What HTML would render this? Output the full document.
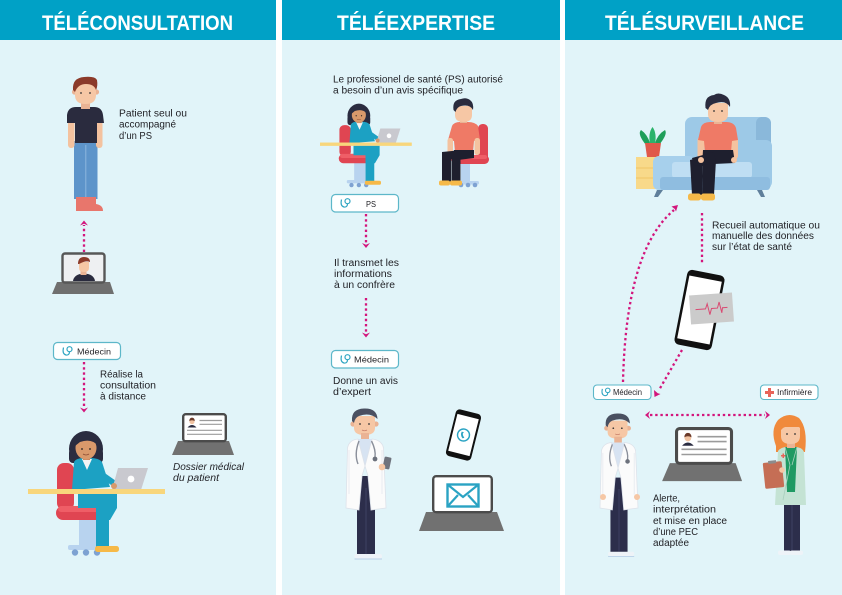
<!DOCTYPE html>
<html><head><meta charset="utf-8">
<style>
html,body{margin:0;padding:0;background:#fff}
svg{display:block}
text{font-family:"Liberation Sans",sans-serif}
.t{font-size:10px;fill:#1f1f24}
.p{font-size:8.6px;fill:#1f1f24}
.h{font-size:21px;font-weight:bold;fill:#fff}
.d{fill:none;stroke:#d3157c;stroke-width:2.3;stroke-dasharray:2.4 2.8}
.a{fill:#d3157c}
</style></head>
<body>
<svg width="842" height="595" viewBox="0 0 842 595" xmlns="http://www.w3.org/2000/svg">
<defs>
  <g id="st">
    <path d="M1.5 1.5 Q0 8 4 9 Q7.5 9.5 7.5 5.5" fill="none" stroke="#2fa5c2" stroke-width="1.2"/>
    <circle cx="7.5" cy="3.2" r="2.5" fill="none" stroke="#2fa5c2" stroke-width="1.2"/>
  </g>
  <g id="lapdos">
    <polygon points="178,441 229,441 234,455 172,455" fill="#717171"/>
    <rect x="183.2" y="414.2" width="42.6" height="27" rx="2.5" fill="#fff" stroke="#4b4b4b" stroke-width="2.4"/>
    <path d="M187.5 427.5 Q192 422.5 196.5 427.5 Z" fill="#2b2d42"/>
    <circle cx="192" cy="421.5" r="2.6" fill="#f1c3a2"/>
    <path d="M189.2 421 Q189.5 417.6 192 417.6 Q194.6 417.6 194.8 421 Q192 419.4 189.2 421 Z" fill="#6b3a2a"/>
    <g stroke="#9b9b9b" stroke-width="1.2">
      <line x1="199.5" y1="420.5" x2="222" y2="420.5"/>
      <line x1="199.5" y1="424.3" x2="222" y2="424.3"/>
      <line x1="187" y1="430.3" x2="222" y2="430.3"/>
      <line x1="187" y1="434.3" x2="222" y2="434.3"/>
    </g>
  </g>
  <g id="doc">
    <rect x="11" y="68" width="18" height="80" fill="#2c2e4b"/>
    <line x1="20" y1="80" x2="20" y2="148" stroke="#3e4163" stroke-width="1"/>
    <rect x="8.5" y="146" width="13" height="4.5" rx="2" fill="#eef3f8"/>
    <rect x="19" y="146" width="17" height="4.5" rx="2" fill="#eef3f8"/>
    <line x1="8.5" y1="151" x2="36" y2="151" stroke="#b9d1e8" stroke-width="1"/>
    <circle cx="7" cy="16" r="2.6" fill="#eab394"/>
    <circle cx="30" cy="16" r="2.6" fill="#eab394"/>
    <path d="M8 8 L29 8 L29 20 Q29 27 18.5 27 Q8 27 8 20 Z" fill="#f6c7a5"/>
    <path d="M6 13 Q5 1 18 0.5 Q31 0 31.5 11 Q24 4 13 8 Q9 9.5 8 15 Z" fill="#4a5061"/>
    <circle cx="14" cy="16" r="0.9" fill="#333"/>
    <circle cx="23" cy="16" r="0.9" fill="#333"/>
    <path d="M16 22 Q18.5 23.5 21 22" stroke="#c9806a" stroke-width="0.8" fill="none"/>
    <rect x="15" y="25" width="8" height="7" fill="#eab394"/>
    <polygon points="12,31 26,31 19,58" fill="#d7e3f2"/>
    <path d="M19 58 L12 31 Q3 32 1.5 40 L0 100 L13 102 L16 68 Z" fill="#fbfbfb" stroke="#dde2ea" stroke-width="0.8"/>
    <path d="M19 58 L26 31 Q36 32 37.5 40 L40 100 L25 102 L22 68 Z" fill="#fbfbfb" stroke="#dde2ea" stroke-width="0.8"/>
    <path d="M13 33 Q8 46 12 56 M25.5 33 Q30 42 29 49" stroke="#8a8f9a" stroke-width="1.4" fill="none"/>
    <circle cx="29" cy="51" r="2.4" fill="#6c717c"/>
    <path d="M3 42 L3 86" stroke="#e4e8ee" stroke-width="0.8"/>
    <path d="M36 42 L36 86" stroke="#e4e8ee" stroke-width="0.8"/>
  </g>
  <g id="desk">
    <rect x="57" y="463" width="17" height="47" rx="7" fill="#e04552"/>
    <rect x="79" y="518" width="17" height="28" fill="#b8d3ef"/>
    <rect x="68" y="545" width="38" height="5" rx="2" fill="#b8d3ef"/>
    <circle cx="75" cy="552.5" r="3.2" fill="#7ea2d2"/>
    <circle cx="86" cy="552.5" r="3.2" fill="#7ea2d2"/>
    <circle cx="97" cy="552.5" r="3.2" fill="#7ea2d2"/>
    <rect x="56" y="506" width="50" height="14" rx="7" fill="#e04552"/>
    <rect x="58" y="506" width="46" height="6" rx="3" fill="#ef5e67"/>
    <ellipse cx="86" cy="449" rx="17" ry="18" fill="#2a2c40"/>
    <rect x="69" y="449" width="34" height="14" rx="4" fill="#2a2c40"/>
    <path d="M74 462 Q76 458 84 458 L90 458 Q99 458 102 462 L110 487 L72 490 Z" fill="#1ca1c3"/>
    <polygon points="82,459 92,459 87,470" fill="#f4f4f4"/>
    <rect x="83" y="452" width="7" height="8" fill="#c88760"/>
    <ellipse cx="86" cy="448" rx="10.5" ry="11.5" fill="#d9996b"/>
    <path d="M75 446 Q76 434 87 434 Q98 434 98 446 Q92 438 80 442 Z" fill="#2a2c40"/>
    <circle cx="82" cy="449" r="0.9" fill="#222"/>
    <circle cx="90" cy="449" r="0.9" fill="#222"/>
    <path d="M83 454 Q86 456 89 454" stroke="#8a4a30" stroke-width="0.8" fill="none"/>
    <path d="M98 472 L115 484" stroke="#1ca1c3" stroke-width="6" stroke-linecap="round"/>
    <polygon points="118,468 148,468 141,490 112,490" fill="#c9c9cf"/>
    <circle cx="131" cy="479" r="3.4" fill="#fff"/>
    <circle cx="114" cy="486" r="3" fill="#d9996b"/>
    <rect x="28" y="489" width="137" height="5" fill="#f8d67c"/>
    <polygon points="78,494 117,494 117,508 110,520 96,520 96,508 78,508" fill="#1ca1c3"/>
    <rect x="96" y="505" width="13" height="43" fill="#1ca1c3"/>
    <rect x="95" y="546" width="24" height="6" rx="2.5" fill="#f6b948"/>
  </g>
</defs>

<rect x="0" y="0" width="842" height="595" fill="#fff"/>
<rect x="0" y="0" width="276" height="595" fill="#e1f4f9"/>
<rect x="282" y="0" width="278" height="595" fill="#e1f4f9"/>
<rect x="565" y="0" width="277" height="595" fill="#e1f4f9"/>
<rect x="0" y="0" width="276" height="40" fill="#00a1c6"/>
<rect x="282" y="0" width="278" height="40" fill="#00a1c6"/>
<rect x="565" y="0" width="277" height="40" fill="#00a1c6"/>
<text class="h" x="42" y="30" textLength="191" lengthAdjust="spacingAndGlyphs">TÉLÉCONSULTATION</text>
<text class="h" x="337" y="30" textLength="158" lengthAdjust="spacingAndGlyphs">TÉLÉEXPERTISE</text>
<text class="h" x="605" y="30" textLength="199" lengthAdjust="spacingAndGlyphs">TÉLÉSURVEILLANCE</text>

<!-- PANEL 1 -->
<rect x="74" y="141" width="23.5" height="58" fill="#5d94ca"/>
<line x1="85.8" y1="145" x2="85.8" y2="199" stroke="#8db6dd" stroke-width="1"/>
<rect x="76" y="197" width="10" height="14" fill="#e8766c"/>
<path d="M86 197 L96 197 L96 204 Q103 205 103 211 L86 211 Z" fill="#e8766c"/>
<rect x="68" y="118" width="6.5" height="30" rx="3" fill="#f4c29f"/>
<rect x="96" y="118" width="6.5" height="30" rx="3" fill="#f4c29f"/>
<path d="M76 107 Q68 107 67 115 L67 123 L75 123 L75 143 L97 143 L97 123 L104 123 L103 115 Q102 107 94 107 Z" fill="#2a2b3e"/>
<rect x="81" y="100" width="9" height="9" fill="#eab394"/>
<circle cx="74.5" cy="92" r="2.6" fill="#eab394"/>
<circle cx="96.5" cy="92" r="2.6" fill="#eab394"/>
<path d="M75 84 L96 84 L96 95 Q96 104 85.5 104 Q75 104 75 95 Z" fill="#f6c7a5"/>
<path d="M73 90 Q72 78 84 77 Q95 76 97 80 Q98 86 96 90 Q94 84 86 84 Q78 84 75 92 Z" fill="#8b3a2a"/>
<circle cx="81" cy="93" r="0.9" fill="#333"/><circle cx="90" cy="93" r="0.9" fill="#333"/>
<text class="t" x="119" y="116.5" textLength="68" lengthAdjust="spacingAndGlyphs">Patient seul ou</text>
<text class="t" x="119" y="127.5" textLength="57" lengthAdjust="spacingAndGlyphs">accompagné</text>
<text class="t" x="119" y="139" textLength="33" lengthAdjust="spacingAndGlyphs">d’un PS</text>
<line class="d" x1="84" y1="252" x2="84" y2="225"/>
<path class="a" d="M80 225.5 L84 220.5 L88 225.5 L84 223.8 Z"/>
<polygon points="57,282 110,282 114,294 52,294" fill="#6f6f6f"/>
<rect x="62.5" y="253.5" width="42" height="29" rx="2.5" fill="#eef0f2" stroke="#575757" stroke-width="2.4"/>
<path d="M73 281 Q74 274 84 273.5 Q94 274 95 281 Z" fill="#2a2b3e"/>
<rect x="80.5" y="270" width="6" height="5" fill="#eab394"/>
<path d="M79 262 L89 262 L89 268 Q89 272 84 272 Q79 272 79 268 Z" fill="#f6c7a5"/>
<path d="M78 264 Q78 257 84 257 Q90 257 90 262 Q86 260 79 264 Z" fill="#8b3a2a"/>
<rect x="53.5" y="342.5" width="67" height="17" rx="4" fill="#fff" stroke="#5db7c9" stroke-width="1.2"/>
<use href="#st" x="62" y="346"/>
<text class="p" x="77" y="354.5" textLength="34" lengthAdjust="spacingAndGlyphs">Médecin</text>
<line class="d" x1="84" y1="362" x2="84" y2="408"/>
<path class="a" d="M80 407.5 L84 412.5 L88 407.5 L84 409.2 Z"/>
<text class="t" x="100" y="377.5" textLength="43" lengthAdjust="spacingAndGlyphs">Réalise la</text>
<text class="t" x="100" y="388.5" textLength="56" lengthAdjust="spacingAndGlyphs">consultation</text>
<text class="t" x="100" y="399.5" textLength="46" lengthAdjust="spacingAndGlyphs">à distance</text>
<use href="#lapdos"/>
<text class="t" x="173" y="470" font-style="italic" textLength="71" lengthAdjust="spacingAndGlyphs">Dossier médical</text>
<text class="t" x="173" y="481" font-style="italic" textLength="46" lengthAdjust="spacingAndGlyphs">du patient</text>
<use href="#desk"/>

<!-- PANEL 2 -->
<text class="t" x="333" y="82.7" textLength="170" lengthAdjust="spacingAndGlyphs">Le professionel de santé (PS) autorisé</text>
<text class="t" x="333" y="93.5" textLength="130" lengthAdjust="spacingAndGlyphs">a besoin d’un avis spécifique</text>
<g transform="translate(320 103) scale(0.67) translate(-28 -430)"><use href="#desk"/></g>
<rect x="478" y="124" width="10" height="38" rx="4.5" fill="#e04552"/>
<rect x="461" y="162" width="9" height="19" fill="#b8d3ef"/>
<rect x="455" y="181" width="24" height="3.5" rx="1.5" fill="#b8d3ef"/>
<circle cx="461" cy="185" r="2.3" fill="#7ea2d2"/><circle cx="468" cy="185" r="2.3" fill="#7ea2d2"/><circle cx="475" cy="185" r="2.3" fill="#7ea2d2"/>
<rect x="451" y="155" width="38" height="9" rx="4.5" fill="#e04552"/>
<rect x="453" y="155" width="34" height="4" rx="2" fill="#ef5e67"/>
<path d="M452 126 Q454 122 460 122 L468 122 Q475 122 478 126 L480 140 L474 141 L473 152 L455 152 L454 141 L448 140 Z" fill="#ef7a66"/>
<rect x="447.5" y="138" width="5.5" height="17" rx="2.5" fill="#f4c29f"/>
<rect x="474.5" y="138" width="5.5" height="17" rx="2.5" fill="#f4c29f"/>
<polygon points="454,150 474,150 474,158 458,160 452,158" fill="#1e1f2e"/>
<rect x="442" y="152" width="9" height="30" fill="#1e1f2e"/>
<rect x="451.5" y="152" width="9" height="30" fill="#1e1f2e"/>
<polygon points="442,152 462,150 462,158 442,160" fill="#1e1f2e"/>
<rect x="439" y="180.5" width="11" height="5" rx="2" fill="#f6b948"/>
<rect x="450" y="180.5" width="12" height="5" rx="2" fill="#f6b948"/>
<rect x="460" y="117" width="7" height="6" fill="#eab394"/>
<path d="M455 106 L472 106 L472 115 Q472 122 463.5 122 Q455 122 455 115 Z" fill="#f6c7a5"/>
<path d="M453.5 110 Q452 100 461 99 Q466 97 470 100 Q474 103 473 110 Q470 104 461 106 Q457 107 455.5 112 Z" fill="#2a2b3e"/>
<rect x="331.5" y="194.5" width="67" height="17.5" rx="4" fill="#fff" stroke="#5db7c9" stroke-width="1.2"/>
<use href="#st" x="340" y="198"/>
<text class="p" x="366" y="206.8" textLength="10" lengthAdjust="spacingAndGlyphs">PS</text>
<line class="d" x1="366" y1="214" x2="366" y2="243"/>
<path class="a" d="M362 243 L366 248 L370 243 L366 244.7 Z"/>
<text class="t" x="334" y="265.8" textLength="65" lengthAdjust="spacingAndGlyphs">Il transmet les</text>
<text class="t" x="334" y="276.8" textLength="58" lengthAdjust="spacingAndGlyphs">informations</text>
<text class="t" x="334" y="287.8" textLength="61" lengthAdjust="spacingAndGlyphs">à un confrère</text>
<line class="d" x1="366" y1="298" x2="366" y2="333"/>
<path class="a" d="M362 332.5 L366 337.5 L370 332.5 L366 334.2 Z"/>
<rect x="331.5" y="350.5" width="67" height="17.5" rx="4" fill="#fff" stroke="#5db7c9" stroke-width="1.2"/>
<use href="#st" x="340" y="354"/>
<text class="p" x="354" y="362.5" textLength="35" lengthAdjust="spacingAndGlyphs">Médecin</text>
<text class="t" x="333" y="384" textLength="65" lengthAdjust="spacingAndGlyphs">Donne un avis</text>
<text class="t" x="333" y="395" textLength="38" lengthAdjust="spacingAndGlyphs">d’expert</text>
<g transform="translate(346 408)"><use href="#doc"/></g>
<g transform="translate(387 463) rotate(12)">
  <rect x="-3.5" y="-6" width="7" height="12" rx="1.2" fill="#6f737d"/>
</g>
<circle cx="382" cy="467" r="3.3" fill="#f6c7a5"/>
<g transform="translate(463.5 435) rotate(14)">
  <rect x="-13" y="-24" width="26" height="48" rx="4" fill="#111"/>
  <rect x="-11" y="-19" width="22" height="38" fill="#fff"/>
  <circle cx="0" cy="0" r="6" fill="none" stroke="#2aa3c3" stroke-width="1.4"/>
  <path d="M-2.5 -3 Q-3.5 1 0 3.5 L1.5 2.5 L0 1 Q-1 0 -1 -1.5 L0 -2.5 Z" fill="#2aa3c3"/>
</g>
<polygon points="426,512 497,512 504,531 419,531" fill="#717171"/>
<rect x="433.2" y="476.2" width="58.6" height="36" rx="3" fill="#fff" stroke="#4b4b4b" stroke-width="2.4"/>
<rect x="447.5" y="484.5" width="31" height="22" fill="none" stroke="#2aa3c3" stroke-width="2.4"/>
<path d="M447.5 484.5 L463 497 L478.5 484.5 M447.5 506.5 L458 495 M478.5 506.5 L468 495" fill="none" stroke="#2aa3c3" stroke-width="2.2"/>

<!-- PANEL 3 -->
<rect x="636" y="157" width="20" height="32" fill="#f8d98a"/>
<line x1="636" y1="168" x2="656" y2="168" stroke="#f0c565" stroke-width="1"/>
<line x1="636" y1="178" x2="656" y2="178" stroke="#f0c565" stroke-width="1"/>
<path d="M646 145 Q637 134 641 130 Q647 134 650 143 Z" fill="#1f9e5a"/>
<path d="M659 145 Q668 134 665 130 Q658 134 655 143 Z" fill="#1f9e5a"/>
<path d="M650 144 Q648 133 652.5 127 Q657 133 655 144 Z" fill="#2bb36b"/>
<path d="M645 143 L661 143 L659 157 L647 157 Z" fill="#e0584a"/>
<path d="M657 190 L654 197 L658 197 L663 190 Z" fill="#5f7f9b"/>
<path d="M757 190 L761 197 L765 197 L762 190 Z" fill="#5f7f9b"/>
<rect x="685" y="117" width="86" height="48" rx="7" fill="#9dc9e7"/>
<rect x="756" y="117" width="15" height="73" rx="6" fill="#8ab8da"/>
<rect x="653" y="156" width="42" height="34" rx="6" fill="#a7d0ec"/>
<rect x="744" y="140" width="28" height="48" rx="6" fill="#9dc9e7"/>
<rect x="672" y="162" width="80" height="16" rx="3" fill="#bfdef3"/>
<rect x="660" y="177" width="110" height="13" rx="3" fill="#8fbde0"/>
<line x1="718" y1="123" x2="735" y2="137" stroke="#b8daf0" stroke-width="1"/>
<rect x="697.5" y="137" width="7" height="22" rx="3" fill="#f4c29f"/>
<rect x="731" y="137" width="7" height="22" rx="3" fill="#f4c29f"/>
<path d="M701 127 Q703 122 710 122 L726 122 Q734 122 736 128 L738 140 L732 141 L731 152 L705 152 L704 141 L698 140 Z" fill="#ef7a66"/>
<polygon points="703,150 733,150 735,163 714,164 702,166" fill="#1e1f2e"/>
<polygon points="690,160 702,157 703,195 692,195" fill="#1e1f2e"/>
<polygon points="702,158 716,160 714,195 703,195" fill="#1e1f2e"/>
<polygon points="692,158 714,152 716,163 694,166" fill="#1e1f2e"/>
<rect x="688" y="193.5" width="13" height="7" rx="2.5" fill="#f6b948"/>
<rect x="701" y="193.5" width="14" height="7" rx="2.5" fill="#f6b948"/>
<circle cx="701" cy="160" r="3" fill="#f4c29f"/>
<circle cx="734" cy="160" r="3" fill="#f4c29f"/>
<rect x="714" y="117" width="8" height="7" fill="#eab394"/>
<path d="M708 103 L728 103 L728 114 Q728 122 718 122 Q708 122 708 114 Z" fill="#f6c7a5"/>
<path d="M705.5 108 Q704 96 714 95 Q718 92 724 95 Q731 98 730 107 Q726 100 716 103 Q710 104 708 110 Z" fill="#2a2b3e"/>
<circle cx="714" cy="111" r="0.9" fill="#333"/><circle cx="722" cy="111" r="0.9" fill="#333"/>
<line class="d" x1="702" y1="213" x2="702" y2="263"/>
<text class="t" x="712" y="228.3" textLength="108" lengthAdjust="spacingAndGlyphs">Recueil automatique ou</text>
<text class="t" x="712" y="239" textLength="102" lengthAdjust="spacingAndGlyphs">manuelle des données</text>
<text class="t" x="712" y="250" textLength="80" lengthAdjust="spacingAndGlyphs">sur l’état de santé</text>
<path class="d" d="M623 382 Q626 250 674 210"/>
<path class="a" d="M671.5 206.5 L678 205 L676 211.5 L674.8 209 Z"/>
<g transform="translate(699.5 310) rotate(11)">
  <rect x="-19" y="-38" width="38" height="76" rx="5" fill="#111"/>
  <rect x="-16.5" y="-32" width="33" height="64" fill="#fff"/>
</g>
<g transform="translate(711.5 308.5) rotate(-4)">
  <rect x="-21.5" y="-14.5" width="43" height="29" fill="#cbcbcb"/>
  <path d="M-16 0 L-6 0 L-4 -5 L-2 6 L0 0 L6 0 L8 -6 L10 5 L11 0 L16 0" fill="none" stroke="#d94a72" stroke-width="1"/>
</g>
<line class="d" x1="682" y1="350" x2="659" y2="390"/>
<path class="a" d="M654 390 L654.5 397 L660.5 394 L657.8 393.3 Z"/>
<rect x="593.5" y="385" width="57.5" height="14.5" rx="3.5" fill="#fff" stroke="#5db7c9" stroke-width="1.1"/>
<g transform="translate(601 387.5) scale(0.9)"><use href="#st"/></g>
<text class="p" x="613" y="395" font-size="8" textLength="29" lengthAdjust="spacingAndGlyphs">Médecin</text>
<rect x="760.5" y="385" width="57.5" height="14.5" rx="3.5" fill="#fff" stroke="#5db7c9" stroke-width="1.1"/>
<path d="M768 388 h3 v3 h3 v3 h-3 v3 h-3 v-3 h-3 v-3 h3 Z" fill="#e8645a"/>
<text class="p" x="777" y="395" font-size="8" textLength="35" lengthAdjust="spacingAndGlyphs">Infirmière</text>
<line class="d" x1="650" y1="415" x2="765" y2="415"/>
<path class="a" d="M650 411 L645 415 L650 419 L648.3 415 Z"/>
<path class="a" d="M765 411 L770 415 L765 419 L766.7 415 Z"/>
<g transform="translate(600 413) scale(0.95)"><use href="#doc"/></g>
<circle cx="603" cy="497" r="3" fill="#f6c7a5"/>
<circle cx="637" cy="497" r="3" fill="#f6c7a5"/>
<g transform="translate(675 427) scale(1.29) translate(-182 -413)"><use href="#lapdos"/></g>
<text class="t" x="653" y="501.7" textLength="27" lengthAdjust="spacingAndGlyphs">Alerte,</text>
<text class="t" x="653" y="512.7" textLength="63" lengthAdjust="spacingAndGlyphs">interprétation</text>
<text class="t" x="653" y="524" textLength="74" lengthAdjust="spacingAndGlyphs">et mise en place</text>
<text class="t" x="653" y="535" textLength="45" lengthAdjust="spacingAndGlyphs">d’une PEC</text>
<text class="t" x="653" y="546" textLength="36" lengthAdjust="spacingAndGlyphs">adaptée</text>
<path d="M776 446 Q770 430 778 420 Q788 411 799 418 Q808 428 805 452 L776 452 Z" fill="#f08a3c"/>
<rect x="784" y="500" width="16" height="52" fill="#2c2e4b"/>
<line x1="792" y1="505" x2="792" y2="552" stroke="#3e4163" stroke-width="1"/>
<rect x="778" y="550.5" width="13" height="4.5" rx="2" fill="#eef3f8"/>
<rect x="790" y="550.5" width="13" height="4.5" rx="2" fill="#eef3f8"/>
<path d="M778 451 Q781 447 787 447 L795 447 Q802 447 804 452 L806 505 L775 505 Z" fill="#c4e3d4"/>
<polygon points="785,447 797,447 795,492 787,492" fill="#1f9a63"/>
<path d="M785 447 L790 465 L783 500 M797 447 L792 465" stroke="#a8cfbd" stroke-width="0.8" fill="none"/>
<path d="M781 455 h1.5 v-1.5 h1.5 v1.5 h1.5 v1.5 h-1.5 v1.5 h-1.5 v-1.5 h-1.5 Z" fill="#e8645a"/>
<rect x="787" y="441" width="8" height="7" fill="#eab394"/>
<path d="M781 427 L800 427 L800 436 Q800 444 790.5 444 Q781 444 781 436 Z" fill="#f6c7a5"/>
<path d="M779 432 Q779 418 791 418 Q802 418 802 430 Q795 421 783 428 Z" fill="#f08a3c"/>
<circle cx="787" cy="434" r="0.9" fill="#333"/><circle cx="795" cy="434" r="0.9" fill="#333"/>
<g transform="translate(773.5 475) rotate(-6)">
  <rect x="-9.5" y="-13" width="19" height="26" rx="1.5" fill="#c56e55"/>
  <rect x="-4" y="-14.5" width="8" height="3" fill="#8c8c8c"/>
</g>
<circle cx="782" cy="470" r="2.8" fill="#f6c7a5"/>
</svg>
</body></html>
